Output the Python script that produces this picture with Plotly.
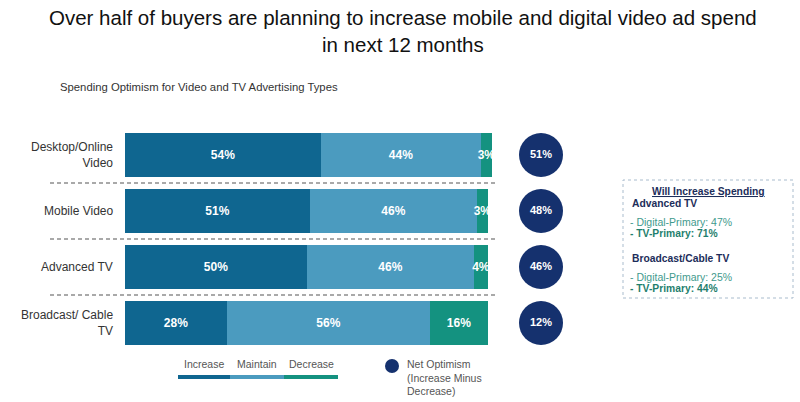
import plotly.graph_objects as go

categories = ["Desktop/Online<br>Video", "Mobile Video", "Advanced TV", "Broadcast/ Cable<br>TV"]
increase = [54, 51, 50, 28]
maintain = [44, 46, 46, 56]
decrease = [3, 3, 4, 16]
net_optimism = [51, 48, 46, 12]
series_names = ["Increase", "Maintain", "Decrease"]
colors = ["#0f6690", "#4b9bbf", "#149280"]
net_color = "#15316e"

W, H = 800, 402
px_per_unit = (492 - 125) / 101.0
x_dom = [125 / W, 600 / W]
x_range = [0, (600 - 125) / px_per_unit]
circle_x = (541 - 125) / px_per_unit
ypos = list(range(len(categories)))

fig = go.Figure()
for name, vals, col in zip(series_names, [increase, maintain, decrease], colors):
    fig.add_trace(go.Bar(
        y=ypos, x=vals, orientation="h", name=name, marker=dict(color=col, line=dict(width=0)),
        text=[f"<b>{v}%</b>" for v in vals], textposition="inside", insidetextanchor="middle",
        textangle=0, constraintext="none",
        textfont=dict(color="white", size=12, family="Liberation Sans"),
        width=0.786, showlegend=False, cliponaxis=False,
    ))

fig.add_trace(go.Scatter(
    x=[circle_x] * len(net_optimism), y=ypos, mode="markers+text",
    marker=dict(size=44, color=net_color, line=dict(width=0)),
    text=[f"<b>{v}%</b>" for v in net_optimism], textposition="middle center",
    textfont=dict(color="white", size=11, family="Liberation Sans"),
    showlegend=False, cliponaxis=False,
))

fig.update_layout(
    width=W, height=H, margin=dict(l=0, r=0, t=0, b=0),
    paper_bgcolor="white", plot_bgcolor="white", barmode="stack", bargap=0,
    font=dict(family="Liberation Sans", color="#333"),
    xaxis=dict(domain=x_dom, range=x_range, visible=False, fixedrange=True),
    yaxis=dict(domain=[1 - 351 / H, 1 - 127 / H], range=[3.5, -0.5], visible=False),
)


def ann(x, y, text, size, color, xanchor="center", yanchor="middle", align="center"):
    fig.add_annotation(x=x / W, y=1 - y / H, xref="paper", yref="paper", showarrow=False,
                       xanchor=xanchor, yanchor=yanchor, align=align, text=text,
                       font=dict(size=size, color=color))


# category labels
for i, c in enumerate(categories):
    fig.add_annotation(x=115 / W, xref="paper", xanchor="right", yanchor="middle", y=i, yref="y",
                       text=c, showarrow=False, align="right",
                       font=dict(size=12, color="#333"))

# dashed separators
for i in range(len(categories) - 1):
    fig.add_shape(type="line", xref="paper", yref="y", x0=50 / W, x1=497 / W,
                  y0=i + 0.5, y1=i + 0.5, line=dict(color="#555", width=1.2, dash="4px,3px"))

# titles
ann(403, 31, "Over half of buyers are planning to increase mobile and digital video ad spend<br>in next 12 months",
    20.5, "#111")
ann(58, 87, "Spending Optimism for Video and TV Advertising Types", 11.3, "#333", xanchor="left")

# legend
leg_x = [(178, 230), (230, 284), (284, 338)]
for (a, b), name, col in zip(leg_x, series_names, colors):
    ann((a + b) / 2, 364, name, 10.5, "#555")
    fig.add_shape(type="line", xref="paper", yref="paper", x0=a / W, x1=b / W,
                  y0=1 - 377 / H, y1=1 - 377 / H, line=dict(color=col, width=4))
fig.add_shape(type="circle", xref="paper", yref="paper", x0=385 / W, x1=399 / W,
              y0=1 - 373 / H, y1=1 - 359 / H, fillcolor=net_color, line=dict(width=0))
ann(405, 356, "Net Optimism<br>(Increase Minus<br>Decrease)", 10.5, "#555",
    xanchor="left", yanchor="top", align="left")

# side box
fig.add_shape(type="rect", xref="paper", yref="paper", x0=623 / W, x1=793 / W,
              y0=1 - 298 / H, y1=1 - 180 / H, line=dict(color="#a9bccd", width=1, dash="dot"))
box_lines = [
    (708, 191, "center", "<b><u>Will Increase Spending</u></b>", "#1c2d5a", 10.3),
    (630, 203, "left", "<b>Advanced TV</b>", "#1c2d5a", 10.3),
    (628, 222, "left", "- Digital-Primary: 47%", "#3f9a8d", 10.5),
    (628, 233, "left", "<b>- TV-Primary: 71%</b>", "#1f7f6e", 10.3),
    (630, 258, "left", "<b>Broadcast/Cable TV</b>", "#1c2d5a", 10.3),
    (628, 277, "left", "- Digital-Primary: 25%", "#3f9a8d", 10.5),
    (628, 288, "left", "<b>- TV-Primary: 44%</b>", "#1f7f6e", 10.3),
]
for x, y, anc, t, col, sz in box_lines:
    ann(x, y, t, sz, col, xanchor=anc)

fig.write_html("out.html")
